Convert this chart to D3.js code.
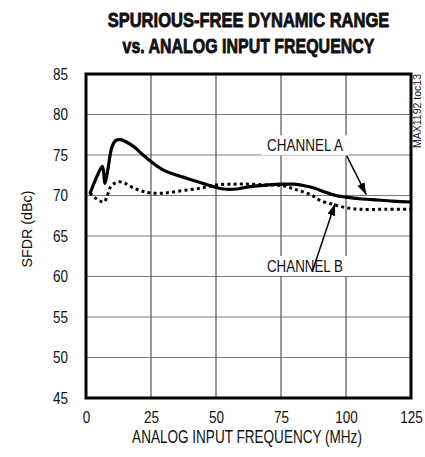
<!DOCTYPE html>
<html>
<head>
<meta charset="utf-8">
<script src="https://cdn.jsdelivr.net/npm/d3@7"></script>
<style>
  html, body { margin: 0; padding: 0; background: #fff; }
  svg { display: block; }
  text { font-family: "Liberation Sans", Arial, sans-serif; fill: #111; }
</style>
</head>
<body>
<svg id="chart" width="425" height="457"></svg>
<script>
// ---- data ----
const titleLines = ["SPURIOUS-FREE DYNAMIC RANGE", "vs. ANALOG INPUT FREQUENCY"];
const xTicks = [0, 25, 50, 75, 100, 125];
const yTicks = [45, 50, 55, 60, 65, 70, 75, 80, 85];
const xLabel = "ANALOG INPUT FREQUENCY (MHz)";
const yLabel = "SFDR (dBc)";
const sideNote = "MAX1192 toc13";

const freqA = [1.5, 4, 6.3, 7.3, 8.3, 10, 11.5, 13.3, 15.5, 18.5, 22, 25, 30, 36, 43, 49, 53, 58, 63, 70, 76, 80, 84, 88, 92, 96, 100, 105, 110, 118, 125];
const sfdrA = [70.2, 72.2, 73.6, 71.5, 73.0, 76.0, 76.8, 76.9, 76.6, 76.0, 75.0, 74.2, 73.1, 72.4, 71.7, 71.1, 70.8, 70.8, 71.1, 71.3, 71.4, 71.4, 71.2, 70.9, 70.4, 70.0, 69.8, 69.6, 69.5, 69.3, 69.2];

const freqB = [1.5, 4, 6.9, 8, 9.5, 11, 12.7, 15, 18.5, 22, 25, 30, 37, 44, 50, 57, 63, 70, 76, 80, 83, 87, 90, 95, 100, 106, 115, 125];
const sfdrB = [70.3, 69.6, 69.2, 69.8, 71.1, 71.5, 71.7, 71.5, 70.9, 70.5, 70.3, 70.3, 70.6, 70.9, 71.3, 71.4, 71.4, 71.3, 71.2, 70.8, 70.5, 70.0, 69.4, 68.9, 68.5, 68.3, 68.3, 68.3];

const seriesNames = ["CHANNEL A", "CHANNEL B"];
// annotation: label centre and arrow (tail -> tip) in data units
const annoLabel = [[84.2, 76.2], [84.2, 61.3]];
const annoTail = [[100.3, 74.9], [87.0, 60.6]];
const annoTip  = [[107.8, 70.1], [95.8, 69.0]];

// ---- layout ----
const svg = d3.select("#chart");
const x = d3.scaleLinear().domain([0, 125]).range([86, 411]);
const y = d3.scaleLinear().domain([45, 85]).range([398, 74]);

// helper: condensed text fitted to a width via horizontal scaling
function fitText(parent, px, py, str, o) {
  const g = parent.append("g").attr("transform", `translate(${px},${py})` + (o.rotate ? ` rotate(${o.rotate})` : ""));
  const t = g.append("text").attr("text-anchor", o.anchor || "middle")
    .style("font-size", o.size + "px")
    .style("font-weight", o.weight || "normal")
    .text(str);
  if (o.stroke) t.attr("stroke", "#111").attr("stroke-width", o.stroke).attr("stroke-linejoin", "round");
  const w = t.node().getComputedTextLength();
  const sx = o.width ? o.width / w : (o.sx || 1);
  t.attr("transform", `scale(${sx},1)`);
  return t;
}

// title
const titleW = [282, 252];
titleLines.forEach((t, i) => {
  fitText(svg, 248.5, 27 + i * 26.3, t, { size: 20, weight: "bold", width: titleW[i], stroke: 0.8 });
});

// grid
const grid = svg.append("g");
grid.selectAll("line.h").data(yTicks.slice(1, -1)).join("line")
  .attr("x1", x(0)).attr("x2", x(125))
  .attr("y1", d => y(d)).attr("y2", d => y(d))
  .attr("stroke", "#7a7a7a").attr("stroke-width", 1.2);
grid.selectAll("line.v").data(xTicks.slice(1, -1)).join("line")
  .attr("y1", y(45)).attr("y2", y(85))
  .attr("x1", d => x(d)).attr("x2", d => x(d))
  .attr("stroke", "#555").attr("stroke-width", 1.2);

// axes (labels only)
const tickScale = 0.82;
const xAxis = d3.axisBottom(x).tickValues(xTicks).tickSize(0).tickPadding(13);
const gx = svg.append("g").attr("transform", `translate(0,${y(45)})`).call(xAxis);
gx.select(".domain").remove();
gx.selectAll("text").style("font-size", "16.5px").style("font-family", '"Liberation Sans", Arial, sans-serif')
  .attr("fill", "#111").attr("transform", `scale(${tickScale},1)`);

const yAxis = d3.axisLeft(y).tickValues(yTicks).tickSize(0);
const gy = svg.append("g").attr("transform", `translate(${x(0)},0)`).call(yAxis);
gy.select(".domain").remove();
gy.selectAll("text").style("font-size", "16.5px").style("font-family", '"Liberation Sans", Arial, sans-serif')
  .attr("fill", "#111").attr("x", -18 / tickScale).attr("transform", `scale(${tickScale},1)`);

// axis titles
fitText(svg, 247, 443, xLabel, { size: 17.5, width: 230 });
fitText(svg, 32, 229, yLabel, { size: 15.5, width: 77, rotate: -90 });

// side note
fitText(svg, 421, 74, sideNote, { size: 10, width: 74, rotate: -90, anchor: "end" });

// lines
const line = d3.line().x(d => x(d[0])).y(d => y(d[1])).curve(d3.curveCatmullRom.alpha(0.5));
const dataA = freqA.map((f, i) => [f, sfdrA[i]]);
const dataB = freqB.map((f, i) => [f, sfdrB[i]]);

svg.append("path").datum(dataA).attr("d", line)
  .attr("fill", "none").attr("stroke", "#000").attr("stroke-width", 3.2)
  .attr("stroke-linejoin", "round");
svg.append("path").datum(dataB).attr("d", line)
  .attr("fill", "none").attr("stroke", "#000").attr("stroke-width", 3)
  .attr("stroke-dasharray", "3,3.2");

// annotations
const defs = svg.append("defs");
defs.append("marker").attr("id", "arr")
  .attr("viewBox", "0 0 12 8").attr("refX", 12).attr("refY", 4)
  .attr("markerWidth", 12).attr("markerHeight", 8)
  .attr("markerUnits", "userSpaceOnUse").attr("orient", "auto")
  .append("path").attr("d", "M0,0 L12,4 L0,8 Z").attr("fill", "#000");

const ann = svg.append("g");
seriesNames.forEach((n, i) => {
  const cx = x(annoLabel[i][0]), cy = y(annoLabel[i][1]);
  ann.append("rect")
    .attr("x", cx - 44).attr("y", cy - 10)
    .attr("width", 88).attr("height", 20)
    .attr("fill", "#fff");
  fitText(ann, cx, cy + 6, n, { size: 17, width: 76 });
  ann.append("line")
    .attr("x1", x(annoTail[i][0])).attr("y1", y(annoTail[i][1]))
    .attr("x2", x(annoTip[i][0])).attr("y2", y(annoTip[i][1]))
    .attr("stroke", "#000").attr("stroke-width", 1.5)
    .attr("marker-end", "url(#arr)");
});

// frame
svg.append("rect")
  .attr("x", x(0)).attr("y", y(85))
  .attr("width", x(125) - x(0)).attr("height", y(45) - y(85))
  .attr("fill", "none").attr("stroke", "#000").attr("stroke-width", 3);
</script>
</body>
</html>
